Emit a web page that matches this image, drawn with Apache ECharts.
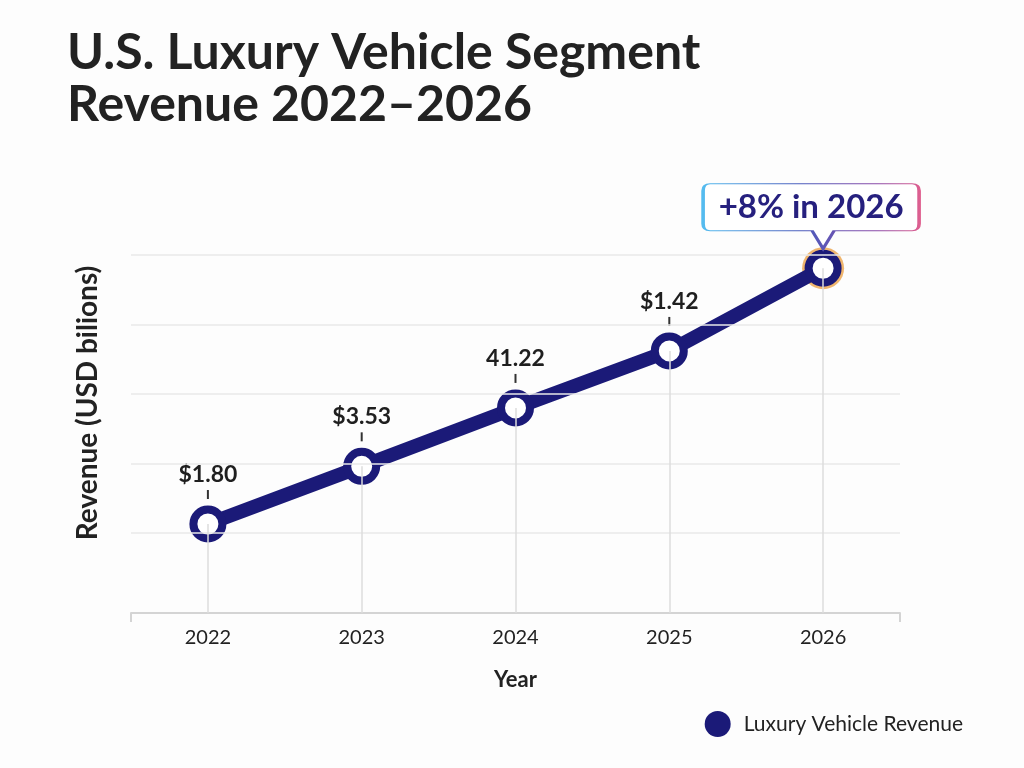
<!DOCTYPE html>
<html>
<head>
<meta charset="utf-8">
<script src="https://cdn.jsdelivr.net/npm/echarts@6/dist/echarts.min.js"></script>
<style>
  html, body { margin: 0; padding: 0; background: #fdfdfd; }
  #main { width: 1024px; height: 768px; }
</style>
</head>
<body>
<div id="main"></div>
<script>
  // chart data
  const years = ['2022', '2023', '2024', '2025', '2026'];
  const revenue = [1.13, 1.96, 2.80, 3.62, 4.81];
  const pointLabels = ['$1.80', '$3.53', '41.22', '$1.42', ''];
  const gridValues = [1, 2, 3, 4, 5];
  const calloutText = '+8% in 2026';
  const yMin = -0.15;
  const yMax = 5;

  const navy = '#1b1a78';
  const font = 'Lato';

  let myChart = echarts.init(document.getElementById('main'));

  // callout box with pointer at the bottom
  const calloutPath = 'path://M7,0 H209 Q216,0 216,7 V40 Q216,47 209,47 H131 L120,65 L109,47 H7 Q0,47 0,40 V7 Q0,0 7,0 Z';

  myChart.setOption({
    backgroundColor: '#fdfdfd',
    title: {
      text: 'U.S. Luxury Vehicle Segment\nRevenue 2022\u20132026',
      left: 62,
      top: 22,
      textStyle: {
        fontFamily: font,
        fontSize: 50,
        fontWeight: 'bold',
        color: '#222',
        lineHeight: 52
      }
    },
    legend: {
      right: 56,
      top: 706,
      itemWidth: 26,
      itemHeight: 26,
      data: [{ name: 'Luxury Vehicle Revenue', icon: 'circle', itemStyle: { color: navy, borderWidth: 0 } }],
      textStyle: { fontFamily: font, fontSize: 21, color: '#222', padding: [0, 0, 0, 8] }
    },
    grid: {
      left: 131,
      right: 124,
      top: 255,
      bottom: 155
    },
    xAxis: {
      type: 'category',
      data: years,
      boundaryGap: true,
      name: 'Year',
      nameLocation: 'middle',
      nameGap: 56,
      nameTextStyle: { fontFamily: font, fontSize: 22, fontWeight: 'bold', color: '#222' },
      axisLine: { onZero: false, lineStyle: { color: '#d4d4d4', width: 2 } },
      axisTick: {
        show: true,
        length: 9,
        interval: i => i === 0 || i === years.length,
        lineStyle: { color: '#d4d4d4', width: 2 }
      },
      axisLabel: { fontFamily: font, fontSize: 20, color: '#222', margin: 15 },
      splitLine: { show: false }
    },
    yAxis: {
      type: 'value',
      min: yMin,
      max: yMax,
      name: 'Revenue (USD bilions)',
      nameLocation: 'middle',
      nameGap: 29,
      nameTextStyle: { fontFamily: font, fontSize: 28, fontWeight: 'bold', color: '#222', padding: [0, 0, 0, 62] },
      axisLine: { show: false },
      axisTick: { show: false },
      axisLabel: { show: false },
      splitLine: { show: false }
    },
    series: [
      {
        // background grid and drop lines
        name: 'grid',
        type: 'line',
        data: [],
        z: 1,
        silent: true,
        markLine: {
          silent: true,
          symbol: ['none', 'none'],
          label: { show: false },
          animation: false,
          data: gridValues.map(v => ({ yAxis: v, lineStyle: { color: '#e8e8e8', width: 1.5, type: 'solid' } }))
            .concat(revenue.map((v, i) => [
              { coord: [years[i], yMin], lineStyle: { color: '#dcdcdc', width: 1.5, type: 'solid' } },
              { coord: [years[i], v] }
            ]))
        }
      },
      {
        // orange ring on the last point
        name: 'ring',
        type: 'scatter',
        z: 2,
        silent: true,
        symbolSize: 42,
        itemStyle: { color: '#eba24a' },
        data: revenue.map((v, i) => i === revenue.length - 1 ? v : null)
      },
      {
        name: 'Luxury Vehicle Revenue',
        type: 'line',
        data: revenue,
        z: 3,
        symbol: 'circle',
        symbolSize: 29,
        lineStyle: { color: navy, width: 14 },
        itemStyle: { color: '#fff', borderColor: navy, borderWidth: 8 },
        label: {
          show: true,
          position: 'top',
          distance: 6,
          formatter: p => pointLabels[p.dataIndex] ? '{v|' + pointLabels[p.dataIndex] + '}\n{t|}' : '',
          rich: {
            v: { fontFamily: font, fontSize: 23, fontWeight: 'bold', color: '#1f1f1f', lineHeight: 30 },
            t: { width: 2, height: 9, lineHeight: 10, backgroundColor: '#333' }
          }
        },
        markPoint: {
          silent: true,
          symbol: calloutPath,
          symbolSize: [216, 65],
          symbolOffset: [-12, -52],
          itemStyle: {
            color: '#fff',
            borderWidth: 2,
            borderColor: new echarts.graphic.LinearGradient(0, 0, 1, 0, [
              { offset: 0, color: '#55bdf0' },
              { offset: 0.45, color: '#4a5cbc' },
              { offset: 0.8, color: '#8a4aa8' },
              { offset: 1, color: '#e0608f' }
            ])
          },
          label: {
            show: true,
            position: 'inside',
            offset: [0, -9],
            formatter: calloutText,
            fontFamily: font,
            fontSize: 33,
            fontWeight: 'bold',
            color: '#26207e'
          },
          data: [{ coord: [years[4], revenue[4]] }]
        }
      }
    ]
  });
  window.onresize = myChart.resize;
</script>
</body>
</html>
